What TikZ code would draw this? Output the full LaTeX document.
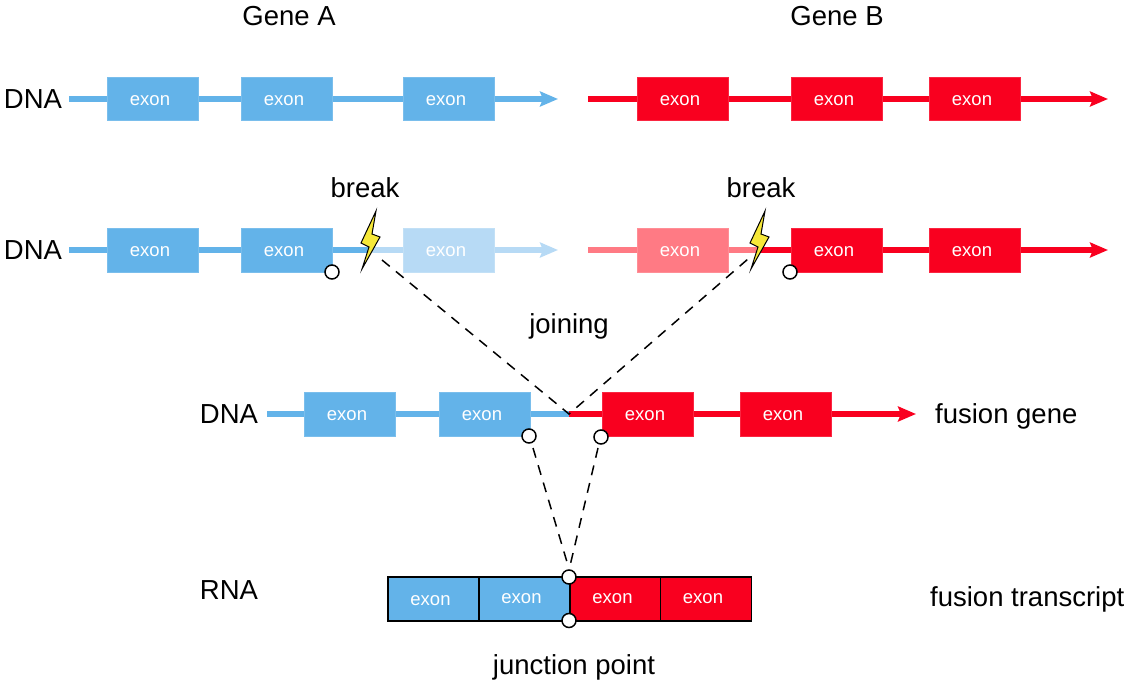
\documentclass[tikz,border=0pt]{standalone}
\usepackage{fontspec}
\setmainfont{Liberation Sans}
\usetikzlibrary{arrows.meta}
\definecolor{geneblue}{HTML}{63B3E9}
\definecolor{palebue}{HTML}{B7DAF5}
\definecolor{genered}{HTML}{F9001F}
\definecolor{palered}{HTML}{FF7A84}
\definecolor{boltyellow}{HTML}{F6E839}
\newcommand{\exonword}{exon\kern6pt}
\tikzset{
  exonbox/.style={minimum width=91.2pt,minimum height=43.6pt,inner sep=0pt,text=white,text height=13pt,text depth=0pt,font=\fontsize{18.5}{20}\selectfont},
  rnacell/.style={exonbox,minimum width=91pt,draw=black,line width=1.5pt},
  strand/.style={line width=6pt},
  strandarrow/.style={strand,-{Stealth[length=18pt,width=15pt,inset=3pt]}},
  biglabel/.style={font=\fontsize{27.5}{30}\selectfont,inner sep=0pt,anchor=base},
  marker/.style={circle,draw=black,fill=white,line width=1.5pt,minimum size=14pt,inner sep=0pt},
  joinline/.style={dashed,dash pattern=on 10pt off 8pt,line width=1.5pt},
}
\begin{document}
\begin{tikzpicture}[x=1pt,y=-1pt]
\useasboundingbox (0,0) rectangle (1128,684);
% strand ends
\coordinate (astart) at (69,99);
\coordinate (aend) at (558,99);
\coordinate (bstart) at (588,99);
\coordinate (bend) at (1108,99);
\coordinate (bstarttwo) at (588,250);
\coordinate (bendtwo) at (1108,250);
\coordinate (astarttwo) at (69,250);
\coordinate (aendtwo) at (558,250);
\coordinate (abreak) at (368,250);
\coordinate (bbreak) at (760,250);
\coordinate (fstart) at (267,414);
\coordinate (fjoin) at (569,414);
\coordinate (fend) at (916,414);
% DNA lines
\draw [strandarrow,geneblue] (astart) -- (aend);
\draw [strandarrow,genered] (bstart) -- (bend);
\draw [strandarrow,palebue] (abreak) -- (aendtwo);
\draw [strand,geneblue] (astarttwo) -- (abreak);
\draw [strand,palered] (bstarttwo) -- (bbreak);
\draw [strandarrow,genered] (bbreak) -- (bendtwo);
\draw [strand,geneblue] (fstart) -- (fjoin);
\draw [strandarrow,genered] (fjoin) -- (fend);
% exons, first two rows
\foreach \name/\xc/\yc/\col in {aa/153/99/geneblue,ab/287/99/geneblue,ac/449/99/geneblue,
  ba/683/99/genered,bb/837/99/genered,bc/975/99/genered,
  ca/153/250.5/geneblue,cb/287/250.5/geneblue,cc/449/250.5/palebue,
  da/683/250.5/palered,db/837/250.5/genered,dc/975/250.5/genered,
  fa/350/414.5/geneblue,fb/485/414.5/geneblue,fc/648/414.5/genered,fd/786/414.5/genered}
  \node [exonbox,fill=\col,draw=\col!85!white,line width=0.8pt] (\name) at (\xc,\yc) {\exonword};
% fusion transcript
\foreach \name/\xc/\col/\th in {ra/433.5/geneblue/13,rb/524.5/geneblue/9.5,rc/615.5/genered/9.5,rd/706/genered/9.5}
  \node [rnacell,fill=\col,text height=\th pt] (\name) at (\xc,599) {\exonword};
% lightning
\foreach \dx/\name in {0/bolta,389/boltb}
  \draw [fill=boltyellow,line width=1pt,line join=miter,xshift=\dx pt]
    (376,211) -- (361,243) -- (369,247) -- (362,269) -- (380,237) -- (372,234) -- cycle;
\coordinate (dasha) at (382,260);
\coordinate (dashb) at (748,259);
% dashed lines
\draw [joinline] (dasha) -- (fjoin) -- (dashb);
\coordinate (dashc) at (533,448);
\coordinate (dashd) at (598,448);
\coordinate (dashe) at (567,562);
\coordinate (dashf) at (569,570);
\draw [joinline] (dashc) -- (dashe);
\draw [joinline] (dashd) -- (dashf);
% junction circles
\node [marker] (ma) at (332,272) {};
\node [marker] (mb) at (790,272) {};
\node [marker] (mc) at (529,436) {};
\node [marker] (md) at (601,437) {};
\node [marker] (me) at (569,577) {};
\node [marker] (mf) at (569,620.5) {};
% labels
\node [biglabel] (genea) at (289,26) {Gene A};
\node [biglabel] (geneb) at (837,26) {Gene B};
\node [biglabel] (dnaa) at (33,109) {DNA};
\node [biglabel] (dnab) at (33,260) {DNA};
\node [biglabel] (dnac) at (229,424) {DNA};
\node [biglabel] (rna) at (229,599) {RNA};
\node [biglabel] (breaka) at (365,198) {break};
\node [biglabel] (breakb) at (761,198) {break};
\node [biglabel] (joining) at (569,334) {joining};
\node [biglabel,anchor=base west] (fgene) at (935,424) {fusion gene};
\node [biglabel,anchor=base west] (ftrans) at (930,606) {fusion transcript};
\node [biglabel] (jpoint) at (574,674) {junction point};
\end{tikzpicture}
\end{document}
